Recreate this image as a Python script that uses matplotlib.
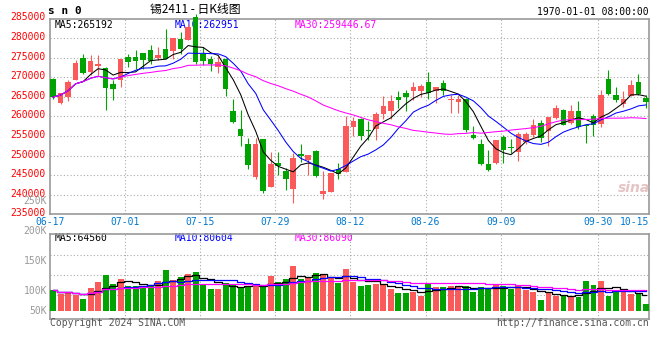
import matplotlib
matplotlib.use('Agg')
import matplotlib.pyplot as plt
import matplotlib.transforms as mtransforms
import numpy as np
import pandas as pd

plt.rcParams['font.family'] = ['DejaVu Sans Mono']

# trading days 2024-06-17 .. 2024-10-15
dates = ['06-17', '06-18', '06-19', '06-20', '06-21', '06-24', '06-25', '06-26', '06-27', '06-28',
         '07-01', '07-02', '07-03', '07-04', '07-05', '07-08', '07-09', '07-10', '07-11', '07-12',
         '07-15', '07-16', '07-17', '07-18', '07-19', '07-22', '07-23', '07-24', '07-25', '07-26',
         '07-29', '07-30', '07-31', '08-01', '08-02', '08-05', '08-06', '08-07', '08-08', '08-09',
         '08-12', '08-13', '08-14', '08-15', '08-16', '08-19', '08-20', '08-21', '08-22', '08-23',
         '08-26', '08-27', '08-28', '08-29', '08-30', '09-02', '09-03', '09-04', '09-05', '09-06',
         '09-09', '09-10', '09-11', '09-12', '09-13', '09-18', '09-19', '09-20', '09-23', '09-24',
         '09-25', '09-26', '09-27', '09-30', '10-08', '10-09', '10-10', '10-11', '10-14', '10-15']

opens = [269620, 263410, 264940, 269190, 274980, 271320, 272770, 272340, 268170, 269190,
         275060, 275060, 276090, 276850, 274890, 277110, 276680, 279660, 279400, 285500,
         275830, 274720, 272600, 274720, 261280, 256850, 252940, 244510, 254130, 241960,
         248000, 246050, 241370, 250300, 248770, 251070, 240090, 240680, 246640, 245790,
         257280, 259240, 256430, 256680, 260510, 261280, 264940, 266040, 266470, 266470,
         268680, 266470, 268430, 264090, 263660, 264510, 255150, 253020, 247920, 248090,
         254640, 252170, 250900, 253450, 255150, 258390, 256260, 259580, 261530, 258390,
         261280, 257700, 260000, 258130, 269450, 265360, 263240, 265190, 268770, 264770]
highs = [269790, 265960, 269190, 274300, 276000, 275570, 275740, 272600, 269190, 274720,
         276000, 276850, 276090, 278130, 277700, 282210, 280090, 281530, 283660, 286200,
         277700, 275400, 275400, 274890, 264340, 261700, 254470, 254470, 254300, 250900,
         250900, 246810, 250560, 252850, 250040, 251320, 245960, 245540, 248090, 260000,
         259830, 259580, 258730, 261110, 265110, 265530, 266380, 266640, 268770, 268340,
         271320, 267490, 269360, 265530, 265360, 264680, 257450, 254300, 251320, 253870,
         255150, 254130, 256000, 256000, 259240, 258980, 259830, 262810, 261790, 262810,
         263830, 257870, 260510, 266640, 271750, 267490, 266380, 269190, 270900, 265360]
lows = [264340, 263240, 263830, 269190, 270900, 270470, 270640, 261530, 264090, 267490,
        272600, 272000, 272170, 273450, 274300, 274720, 274720, 276000, 279400, 273450,
        273020, 271490, 271150, 265190, 258400, 252430, 246560, 244090, 240430, 241960,
        245110, 241200, 237880, 248340, 245110, 244510, 238980, 240680, 244090, 245790,
        254980, 253870, 253870, 253870, 259410, 259410, 262130, 261280, 264090, 264940,
        264510, 263490, 265360, 260850, 260850, 256000, 254300, 247490, 246050, 247920,
        248090, 250640, 248600, 253020, 254730, 253450, 252430, 259410, 257700, 258130,
        256850, 253280, 254980, 257280, 265360, 263660, 262390, 265190, 265360, 262130]
closes = [264940, 265960, 268770, 273620, 271150, 274040, 273280, 267240, 267070, 274550,
          273870, 274130, 274470, 274130, 275570, 274720, 280090, 277280, 282810, 273870,
          274040, 273280, 273870, 267070, 258560, 254980, 247490, 252850, 240860, 247750,
          247240, 243920, 249450, 249870, 250040, 244770, 240940, 245540, 245370, 257450,
          258730, 254980, 256170, 260510, 262640, 263830, 264090, 265020, 267490, 267660,
          266040, 267410, 266380, 264340, 264340, 256430, 254470, 247750, 246220, 253870,
          251320, 252000, 255410, 255410, 257700, 254470, 259830, 262040, 257870, 261280,
          257280, 257530, 257700, 265360, 265620, 264090, 264510, 267920, 265620, 263660]
volumes = [85000, 69000, 74000, 65000, 48000, 95000, 118000, 147000, 110000, 131000,
           103000, 102000, 98000, 103000, 122000, 168000, 127000, 139000, 151000, 160000,
           106000, 89000, 89000, 114000, 105000, 99000, 102000, 102000, 99000, 143000,
           117000, 131000, 184000, 131000, 133000, 155000, 146000, 133000, 113000, 172000,
           120000, 103000, 106000, 111000, 109000, 89000, 74000, 74000, 78000, 62000,
           114000, 98000, 98000, 103000, 96000, 102000, 78000, 98000, 89000, 110000,
           102000, 88000, 102000, 87000, 78000, 45000, 78000, 62000, 66000, 62000,
           58000, 122000, 106000, 122000, 62000, 78000, 76000, 70000, 74000, 29000]

date_ticks = ['06-17', '07-01', '07-15', '07-29', '08-12', '08-26', '09-09', '09-30', '10-15']
price_ticks = list(range(235000, 285001, 5000))
vol_labels = ['250K', '200K', '150K', '100K', '50K']
vol_label_px = [201, 231, 260.7, 290.7, 310.7]
price_legend = ['MA5:265192', 'MA10:262951', 'MA30:259446.67']
vol_legend = ['MA5:64560', 'MA10:80604', 'MA30:86090']

RED = '#fa5a5a'
GREEN = '#00a300'
GRID = '#aaaaaa'
BORDER = '#999999'
MA_COLORS = ['black', '#0000ff', '#ff00ff']
MA_N = [5, 10, 30]

W, H = 660, 360
fig = plt.figure(figsize=(W / 100, H / 100), dpi=100)
fig.patch.set_facecolor('white')

def box(x0, y0, x1, y1):
    return [x0 / W, 1 - y1 / H, (x1 - x0) / W, (y1 - y0) / H]

ax1 = fig.add_axes(box(50, 18.5, 649, 214.3))
ax2 = fig.add_axes(box(50, 234.3, 649, 318.7))

x = np.arange(len(dates))
o = np.array(opens)
c = np.array(closes)
up = c >= o
cols = np.where(up, RED, GREEN)
xlim = (-0.41, 79.4)

# candles
ax1.vlines(x, lows, highs, colors=cols, lw=0.8, zorder=4, clip_on=False)
ax1.bar(x, np.maximum(np.abs(c - o), 150), bottom=np.minimum(o, c), width=0.74,
        color=cols, lw=0, zorder=5, clip_on=False)
cs = pd.Series(closes, dtype=float)
for n, col in zip(MA_N, MA_COLORS):
    ax1.plot(x, cs.rolling(n, min_periods=1).mean(), color=col, lw=0.75, zorder=6)

ax1.set_xlim(*xlim)
ax1.set_ylim(235000, 285000)
ax1.set_yticks(price_ticks)
ax1.set_yticklabels([str(t) for t in price_ticks], color='#ff0000', fontsize=7)
ax1.tick_params(axis='y', length=0, pad=3)
ax1.set_xticks([])
for lab in ax1.get_yticklabels():
    lab.set_transform(lab.get_transform() + mtransforms.ScaledTranslation(0, 2 / 100, fig.dpi_scale_trans))
for t in price_ticks[1:-1]:
    ax1.axhline(t, color=GRID, lw=0.8, ls=(0, (1, 2)), zorder=1)

# volume
vs = pd.Series(volumes, dtype=float)
ax2.bar(x, volumes, width=0.78, color=cols, lw=0, zorder=3)
for n, col in zip(MA_N, MA_COLORS):
    ax2.plot(x, vs.rolling(n, min_periods=1).mean(), color=col, lw=0.9,
             drawstyle='steps-mid', zorder=4)
ax2.set_xlim(*xlim)
ax2.set_ylim(-33000, 315000)
ax2.set_xticks([])
ax2.set_yticks([])
for frac in (0.755, 0.518, 0.281):
    ax2.plot([0, 1], [frac, frac], transform=ax2.transAxes, color=GRID, lw=0.8,
             ls=(0, (1, 2)), zorder=1)

for ax in (ax1, ax2):
    for s in ax.spines.values():
        s.set_color(BORDER)
        s.set_linewidth(1.2)
    for d in date_ticks[1:-1]:
        ax.axvline(dates.index(d) - 0.373, color=GRID, lw=0.8, ls=(0, (1, 2)), zorder=1)

# date labels
blend = mtransforms.blended_transform_factory(ax1.transData, ax1.transAxes)
for d in date_ticks:
    i = dates.index(d)
    if i == 0:
        xp, ha = xlim[0], 'center'
    elif i == len(dates) - 1:
        xp, ha = xlim[1], 'right'
    else:
        xp, ha = i - 0.373, 'center'
    ax1.text(xp, -0.038, d, transform=blend, ha=ha, va='center', color='#0078d0', fontsize=7)

# legends
for txt, col, px in zip(price_legend, MA_COLORS, (55, 175, 295)):
    ax1.text((px - 50) / 599, 0.967, txt, transform=ax1.transAxes, color=col,
             fontsize=7, va='center', ha='left', zorder=2)
for txt, col, px in zip(vol_legend, MA_COLORS, (55, 175, 295)):
    ax2.text((px - 50) / 599, 0.953, txt, transform=ax2.transAxes, color=col,
             fontsize=7, va='center', ha='left', zorder=2)

for lab, py in zip(vol_labels, vol_label_px):
    fig.text(47 / W, 1 - py / H, lab, color='#999999', fontsize=7, ha='right', va='center')

fig.text(48 / W, 1 - 11 / H, 's n 0', fontsize=8, fontweight='bold', ha='left', va='center')
fig.text(195 / W, 1 - 10 / H, '锡2411 - 日K线图', fontsize=8.5, ha='center', va='center',
         family=['Noto Sans CJK SC', 'DejaVu Sans'])
fig.text(649 / W, 1 - 11.7 / H, '1970-01-01 08:00:00', fontsize=7, ha='right', va='center')
fig.text(50 / W, 1 - 323.5 / H, 'Copyright 2024 SINA.COM', fontsize=7, color='#555555',
         ha='left', va='center')
fig.text(649 / W, 1 - 323.5 / H, 'http://finance.sina.com.cn', fontsize=7, color='#555555',
         ha='right', va='center')
fig.text(634 / W, 1 - 188 / H, 'sina', fontsize=10, color='#e6c4c4', style='italic',
         fontweight='bold', ha='center', va='center', family='DejaVu Sans')

fig.savefig('out.png', dpi=100)
